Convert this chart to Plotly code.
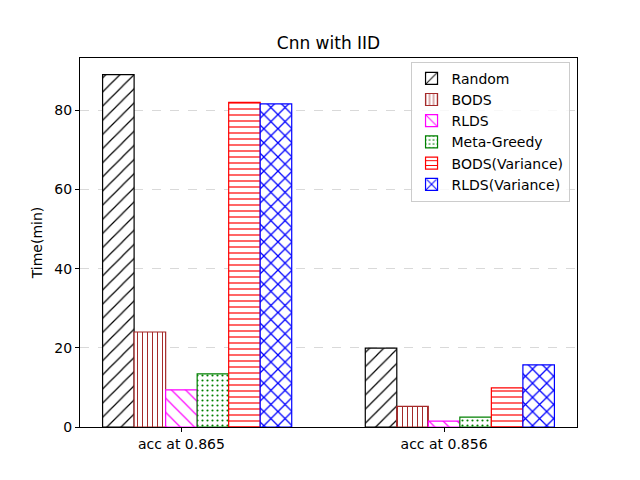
import plotly.graph_objects as go

# data
groups = ["acc at 0.865", "acc at 0.856"]
methods = ["Random", "BODS", "RLDS", "Meta-Greedy", "BODS(Variance)", "RLDS(Variance)"]
random_vals = [89.0, 19.9]
bods_vals = [24.0, 5.2]
rlds_vals = [9.4, 1.5]
meta_greedy_vals = [13.4, 2.5]
bods_var_vals = [82.0, 9.9]
rlds_var_vals = [81.6, 15.7]

series = [random_vals, bods_vals, rlds_vals, meta_greedy_vals, bods_var_vals, rlds_var_vals]

# styling (matplotlib-like hatches)
colors = ["black", "#a52a2a", "magenta", "green", "red", "blue"]
shapes = ["/", "|", "\\", ".", "-", "x"]
sizes = [10, 5, 10, 5, 6, 10]
solid = [0.12, 0.2, 0.12, 0.15, 0.2, 0.24]

width = 0.12
fig = go.Figure()
for i, (name, vals) in enumerate(zip(methods, series)):
    xs = [g + (i - 2) * width for g in range(len(groups))]
    fig.add_trace(go.Bar(
        x=xs, y=vals, name=name, width=width,
        marker=dict(color="white",
                    line=dict(color=colors[i], width=1.2),
                    pattern=dict(shape=shapes[i], fgcolor=colors[i], bgcolor="white",
                                 fgopacity=1, size=sizes[i], solidity=solid[i])),
    ))

fig.update_xaxes(range=[-0.386, 1.506], tickvals=list(range(len(groups))), ticktext=groups,
                 showgrid=False, zeroline=False, showline=True, mirror=True,
                 linecolor="black", linewidth=1, ticks="outside", ticklen=4,
                 tickcolor="black", tickfont=dict(size=14, color="black"))
fig.update_yaxes(range=[0, 93.2], tickvals=[0, 20, 40, 60, 80],
                 showgrid=True, gridcolor="#d9d9d9", griddash="dash", gridwidth=0.8,
                 zeroline=False, showline=True, mirror=True,
                 linecolor="black", linewidth=1, ticks="outside", ticklen=4,
                 tickcolor="black", tickfont=dict(size=14, color="black"),
                 title=dict(text="Time(min)", font=dict(size=14, color="black"), standoff=8))

# the page puts the figure 8px in from the top-left corner, so margins are shifted
fig.update_layout(
    width=640, height=480,
    margin=dict(l=72, r=71, t=50, b=61),
    plot_bgcolor="white", paper_bgcolor="white",
    font=dict(family="DejaVu Sans", color="black"),
    title=dict(text="Cnn with IID", x=0.5, xref="paper", xanchor="center",
               y=1 - 35 / 480, yref="container", yanchor="middle",
               font=dict(size=17, color="black")),
    barmode="overlay",
    showlegend=True,
    legend=dict(x=0.985, y=0.99, xanchor="right", yanchor="top",
                bgcolor="rgba(255,255,255,0.8)", bordercolor="#cccccc", borderwidth=1,
                font=dict(size=14, color="black"), tracegroupgap=0),
)

fig.write_html("out.html")
